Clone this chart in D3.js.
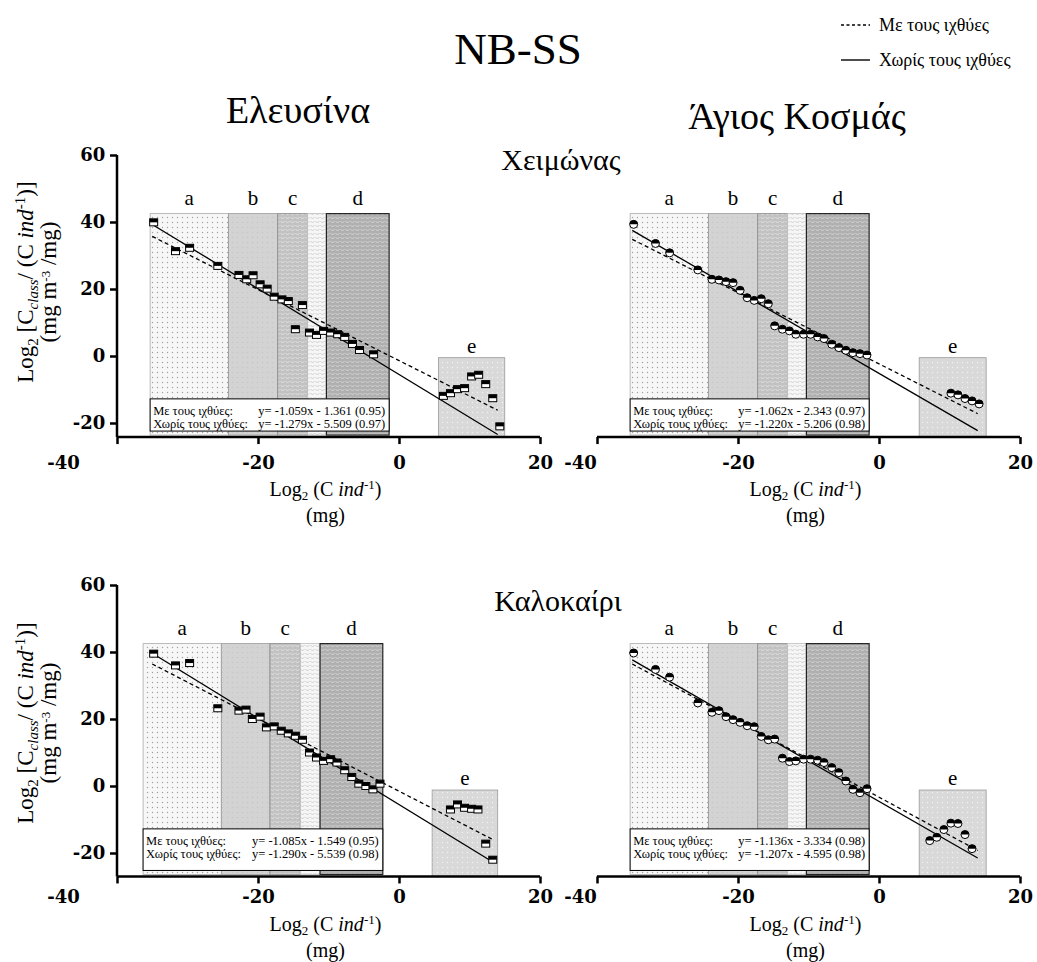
<!DOCTYPE html>
<html>
<head>
<meta charset="utf-8">
<script src="https://cdn.jsdelivr.net/npm/d3@7"></script>
<style>
  body { margin: 0; background: #fff; }
</style>
</head>
<body>
<div id="chart"></div>
<script>
// ---- data ----
// Ελευσίνα, Χειμώνας
var elWinX = [-34.8, -31.7, -29.7, -25.7, -22.7, -21.6, -20.7, -19.7, -18.7, -17.7, -16.6, -15.7, -13.7, -14.7, -12.7, -11.7, -10.7, -9.7, -8.7, -7.7, -6.6, -5.6, -3.6,
              6.3, 7.3, 8.3, 9.3, 10.3, 11.3, 12.3, 13.3, 14.3];
var elWinY = [39.9, 31.3, 32.3, 26.9, 24.2, 22.9, 24.1, 21.4, 20.1, 17.7, 16.9, 16.4, 15.2, 8.0, 7.0, 6.3, 7.5, 7.0, 6.5, 5.7, 3.6, 1.8, 0.5,
              -11.9, -11.1, -9.9, -9.6, -6.1, -5.6, -8.4, -12.6, -21.0];
// Άγιος Κοσμάς, Χειμώνας
var akWinX = [-34.8, -31.7, -29.7, -25.7, -23.7, -22.7, -21.7, -20.7, -19.7, -18.7, -17.7, -16.7, -15.7, -14.8, -13.7, -12.7, -11.8, -10.7, -9.7, -8.7, -7.8, -6.7, -5.7, -4.7, -3.7, -2.7, -1.7,
              10.2, 11.2, 12.2, 13.2, 14.2];
var akWinY = [39.3, 33.6, 30.8, 25.7, 22.9, 22.7, 22.2, 21.9, 19.6, 17.4, 16.6, 17.1, 15.6, 9.0, 8.0, 7.5, 6.5, 6.5, 6.5, 5.7, 5.2, 3.5, 2.5, 1.7, 1.0, 0.7, 0.3,
              -11.1, -11.6, -12.7, -13.4, -14.3];
// Ελευσίνα, Καλοκαίρι
var elSumX = [-34.8, -31.7, -29.7, -25.7, -22.7, -21.7, -20.8, -19.7, -18.8, -17.7, -16.7, -15.7, -14.7, -13.7, -12.7, -11.7, -10.7, -9.7, -8.8, -7.7, -6.7, -5.7, -4.7, -3.7, -2.7,
              7.3, 8.3, 9.3, 10.3, 11.2, 12.3, 13.3];
var elSumY = [39.5, 36.0, 36.7, 23.2, 22.5, 22.8, 20.0, 20.7, 17.5, 17.8, 16.5, 15.7, 15.0, 13.8, 10.0, 8.5, 7.5, 8.0, 7.0, 4.7, 2.7, 0.7, 0.0, -1.0, 0.7,
              -7.0, -5.5, -6.5, -6.8, -7.0, -17.2, -22.0];
// Άγιος Κοσμάς, Καλοκαίρι
var akSumX = [-34.8, -31.7, -29.7, -25.7, -23.7, -22.7, -21.7, -20.7, -19.7, -18.7, -17.7, -16.7, -15.7, -14.8, -13.7, -12.7, -11.8, -10.7, -9.7, -8.7, -7.8, -6.7, -5.7, -4.7, -3.7, -2.7, -1.7,
              7.2, 8.2, 9.2, 10.2, 11.2, 12.2, 13.2];
var akSumY = [39.7, 34.8, 32.5, 24.8, 22.0, 22.5, 20.7, 19.8, 19.0, 18.0, 17.7, 14.8, 13.8, 14.0, 8.3, 7.3, 7.5, 8.0, 8.0, 7.7, 7.0, 5.5, 4.0, 1.5, -1.0, -2.0, -0.8,
              -16.3, -15.3, -13.0, -11.1, -11.2, -14.5, -18.7];

// fitted lines: [slope, intercept, r2]
var elWinWith = [-1.059, -1.361, 0.95], elWinWithout = [-1.279, -5.509, 0.97];
var akWinWith = [-1.062, -2.343, 0.97], akWinWithout = [-1.220, -5.206, 0.98];
var elSumWith = [-1.085, -1.549, 0.95], elSumWithout = [-1.290, -5.539, 0.98];
var akSumWith = [-1.136, -3.334, 0.98], akSumWithout = [-1.207, -4.595, 0.98];

// size zones (edges on the x axis) and zone e
var zoneEdgesA = [-35.3, -24.2, -17.2, -13.0, -10.3, -1.4];
var zoneEdgesB = [-36.3, -25.2, -18.3, -14.0, -11.2, -2.3];
var zoneNames = ["a", "b", "c", "", "d"];
var zoneE_A = [5.6, 15.0], zoneE_B = [4.7, 14.0], zoneE_R = [5.7, 15.2];
var zoneTop = 42.5;

var xTicks = [-40, -20, 0, 20];
var yTicks = [-20, 0, 20, 40, 60];

var legendNames = ["Με τους ιχθύες", "Χωρίς τους ιχθύες"];

// ---- page ----
var W = 1037, H = 962;
var serif = "'Liberation Serif', 'Times New Roman', serif";
var tickFont = "'DejaVu Serif', serif";

var svg = d3.select("#chart").append("svg")
  .attr("width", W).attr("height", H)
  .style("font-family", serif);

// patterns for the zones
var defs = svg.append("defs");
function dotPattern(id, bg, dot, step) {
  var p = defs.append("pattern").attr("id", id)
    .attr("width", step).attr("height", step).attr("patternUnits", "userSpaceOnUse");
  p.append("rect").attr("width", step).attr("height", step).attr("fill", bg);
  p.append("circle").attr("cx", step / 2).attr("cy", step / 2).attr("r", 0.7).attr("fill", dot);
}
function chevPattern(id, bg, fg) {
  var p = defs.append("pattern").attr("id", id)
    .attr("width", 5).attr("height", 4).attr("patternUnits", "userSpaceOnUse");
  p.append("rect").attr("width", 5).attr("height", 4).attr("fill", bg);
  p.append("path").attr("d", "M0.5,1 L2.5,3 L4.5,1").attr("fill", "none")
    .attr("stroke", fg).attr("stroke-width", 0.8);
}
dotPattern("pA", "#f7f7f7", "#a0a0a0", 5);
dotPattern("pB", "#d3d3d3", "#c6c6c6", 5);
chevPattern("pC", "#c2c2c2", "#e8e8e8");
chevPattern("pW", "#f6f6f6", "#c4c4c4");
chevPattern("pD", "#b0b0b0", "#dcdcdc");
dotPattern("pE", "#d9d9d9", "#f2f2f2", 5);

var zoneFill = ["url(#pA)", "url(#pB)", "url(#pC)", "url(#pW)", "url(#pD)"];
var zoneStroke = ["#aaa", "#999", "#888", "#bbb", "#222"];

function fmt3(v) { return Math.abs(v).toFixed(3); }

// ---- titles & legend ----
svg.append("text").attr("x", 518).attr("y", 64).attr("text-anchor", "middle")
  .style("font-size", "45px").text("NB-SS");
svg.append("text").attr("x", 298).attr("y", 123).attr("text-anchor", "middle")
  .style("font-size", "38px").text("Ελευσίνα");
svg.append("text").attr("x", 797).attr("y", 129).attr("text-anchor", "middle")
  .style("font-size", "38px").text("Άγιος Κοσμάς");
svg.append("text").attr("x", 561).attr("y", 170).attr("text-anchor", "middle")
  .style("font-size", "30px").text("Χειμώνας");
svg.append("text").attr("x", 558).attr("y", 611).attr("text-anchor", "middle")
  .style("font-size", "30px").text("Καλοκαίρι");

legendNames.forEach(function (name, i) {
  var ly = 25 + i * 35;
  svg.append("line").attr("x1", 841).attr("x2", 870).attr("y1", ly).attr("y2", ly)
    .attr("stroke", "#000").attr("stroke-width", 1.4)
    .attr("stroke-dasharray", i === 0 ? "3,2.5" : null);
  svg.append("text").attr("x", 879).attr("y", ly + 6)
    .style("font-size", "18px").text(name);
});

// ---- panels ----
function drawPanel(p) {
  var x = d3.scaleLinear().domain([-40, 20]).range([p.left, p.left + 423]);
  var y = d3.scaleLinear().domain([60, -20]).range([p.top, p.top + 268]);
  var yBase = y(p.yMin);
  var g = svg.append("g");

  // zones a-d
  var edges = p.edges;
  for (var i = 0; i < 5; i++) {
    g.append("rect")
      .attr("x", x(edges[i])).attr("y", y(zoneTop))
      .attr("width", x(edges[i + 1]) - x(edges[i]))
      .attr("height", yBase - 2 - y(zoneTop))
      .attr("fill", zoneFill[i]).attr("stroke", zoneStroke[i]).attr("stroke-width", i === 4 ? 1.2 : 0.8);
    if (zoneNames[i]) {
      g.append("text").attr("x", (x(edges[i]) + x(edges[i + 1])) / 2).attr("y", y(zoneTop) - 9)
        .attr("text-anchor", "middle").style("font-size", "21px").text(zoneNames[i]);
    }
  }
  // zone e
  g.append("rect")
    .attr("x", x(p.zoneE[0])).attr("y", y(p.eTop))
    .attr("width", x(p.zoneE[1]) - x(p.zoneE[0]))
    .attr("height", yBase - y(p.eTop))
    .attr("fill", "url(#pE)").attr("stroke", "#999").attr("stroke-width", 0.8);
  g.append("text").attr("x", (x(p.zoneE[0]) + x(p.zoneE[1])) / 2).attr("y", y(p.eTop) - 5)
    .attr("text-anchor", "middle").style("font-size", "21px").text("e");

  // equation box
  var bx0 = x(edges[0]), bx1 = x(edges[5]), by0 = y(-12.8), by1 = yBase - 6;
  g.append("rect").attr("x", bx0).attr("y", by0).attr("width", bx1 - bx0).attr("height", by1 - by0)
    .attr("fill", "#fff").attr("stroke", "#000").attr("stroke-width", 1);
  [p.fitWith, p.fitWithout].forEach(function (f, k) {
    var ty = by0 + 16 + k * 13;
    g.append("text").attr("x", bx0 + 3).attr("y", ty).style("font-size", "12.5px")
      .text(legendNames[k] + ":");
    var eq = "y= -" + fmt3(f[0]) + "x - " + fmt3(f[1]) + " (" + f[2].toFixed(2) + ")";
    g.append("text").attr("x", bx1 - 4).attr("y", ty).attr("text-anchor", "end")
      .style("font-size", "12.5px").text(eq);
  });

  // fitted lines
  var line = d3.line().x(function (d) { return x(d[0]); }).y(function (d) { return y(d[1]); });
  [[p.fitWith, "4,3"], [p.fitWithout, null]].forEach(function (s) {
    var f = s[0];
    var pts = p.lineRange.map(function (v) { return [v, f[0] * v + f[1]]; });
    g.append("path").datum(pts).attr("d", line).attr("fill", "none")
      .attr("stroke", "#000").attr("stroke-width", 1.3).attr("stroke-dasharray", s[1]);
  });

  // points
  var pts = p.xs.map(function (v, i) { return [v, p.ys[i]]; });
  var m = g.selectAll(".pt").data(pts).enter().append("g")
    .attr("transform", function (d) { return "translate(" + x(d[0]) + "," + y(d[1]) + ")"; });
  if (p.marker === "square") {
    m.append("rect").attr("x", -4).attr("y", -3.5).attr("width", 8).attr("height", 7)
      .attr("fill", "#fff").attr("stroke", "#000").attr("stroke-width", 1);
    m.append("rect").attr("x", -4).attr("y", -3.5).attr("width", 8).attr("height", 3.5).attr("fill", "#000");
  } else {
    m.append("circle").attr("r", 4).attr("fill", "#fff").attr("stroke", "#000").attr("stroke-width", 1);
    m.append("path").attr("d", "M-4,0 A4,4 0 0 1 4,0 Z").attr("fill", "#000");
  }

  // axes
  var xAxis = g.append("g").attr("transform", "translate(0," + yBase + ")")
    .call(d3.axisBottom(x).tickValues(xTicks).tickSize(7));
  xAxis.select(".domain").attr("stroke-width", 2.5).attr("d", "M" + p.left + ",0H" + (p.left + 423));
  xAxis.selectAll(".tick line").attr("stroke-width", 2.5);
  xAxis.selectAll(".tick text").attr("y", p.tickDy).attr("dy", "0")
    .attr("dx", function (d) { return d === -40 ? p.firstShift : 0; })
    .style("font-family", tickFont).style("font-weight", "bold").style("font-size", "18px")
    .text(function (d) { return d < 0 ? "-" + Math.abs(d) : d; });

  if (p.yLabels) {
    var yAxis = g.append("g").attr("transform", "translate(" + p.left + ",0)")
      .call(d3.axisLeft(y).tickValues(yTicks).tickSize(7));
    yAxis.select(".domain").attr("stroke-width", 2.5).attr("d", "M0," + y(60) + "V" + yBase);
    yAxis.selectAll(".tick line").attr("stroke-width", 2.5);
    yAxis.selectAll(".tick text").attr("dx", "-0.1em")
      .style("font-family", tickFont).style("font-weight", "bold").style("font-size", "18px")
      .text(function (d) { return d < 0 ? "-" + Math.abs(d) : d; });

    // y label, two lines
    var cy = p.labCy;
    var t1 = g.append("text").attr("transform", "translate(33," + cy + ") rotate(-90)")
      .attr("text-anchor", "middle").style("font-size", "23px");
    t1.append("tspan").text("Log");
    t1.append("tspan").attr("dy", 5).style("font-size", "15px").text("2");
    t1.append("tspan").attr("dy", -5).text(" [C");
    t1.append("tspan").attr("dy", 5).style("font-size", "15px").style("font-style", "italic").text("class");
    t1.append("tspan").attr("dy", -5).text("/ (C ");
    t1.append("tspan").style("font-style", "italic").text("ind");
    t1.append("tspan").attr("dy", -8).style("font-size", "15px").text("-1");
    t1.append("tspan").attr("dy", 8).text(")]");
    var t2 = g.append("text").attr("transform", "translate(56," + cy + ") rotate(-90)")
      .attr("text-anchor", "middle").style("font-size", "23px");
    t2.append("tspan").text("(mg m");
    t2.append("tspan").attr("dy", -6).style("font-size", "13px").text("-3");
    t2.append("tspan").attr("dy", 6).text(" /mg)");
  }

  // x label
  var cx = (x(-40) + x(20)) / 2 - 3;
  var xl = g.append("text").attr("x", cx).attr("y", yBase + p.labDy).attr("text-anchor", "middle")
    .style("font-size", "20px");
  xl.append("tspan").text("Log");
  xl.append("tspan").attr("dy", 4).style("font-size", "13px").text("2");
  xl.append("tspan").attr("dy", -4).text(" (C ");
  xl.append("tspan").style("font-style", "italic").text("ind");
  xl.append("tspan").attr("dy", -7).style("font-size", "13px").text("-1");
  xl.append("tspan").attr("dy", 7).text(")");
  g.append("text").attr("x", cx).attr("y", yBase + p.labDy + 26).attr("text-anchor", "middle")
    .style("font-size", "20px").text("(mg)");
}

drawPanel({ left: 117, top: 155, yMin: -24.2, xs: elWinX, ys: elWinY, edges: zoneEdgesA, zoneE: zoneE_A, eTop: -0.5,
  fitWith: elWinWith, fitWithout: elWinWithout, lineRange: [-35, 14], marker: "square", yLabels: true,
  firstShift: -54, tickDy: 32, labDy: 59, labCy: 282 });
drawPanel({ left: 597, top: 155, yMin: -24.2, xs: akWinX, ys: akWinY, edges: zoneEdgesA, zoneE: zoneE_R, eTop: -0.5,
  fitWith: akWinWith, fitWithout: akWinWithout, lineRange: [-35, 14], marker: "circle", yLabels: false,
  firstShift: -17, tickDy: 32, labDy: 59 });
drawPanel({ left: 117, top: 585, yMin: -27, xs: elSumX, ys: elSumY, edges: zoneEdgesB, zoneE: zoneE_B, eTop: -1.2,
  fitWith: elSumWith, fitWithout: elSumWithout, lineRange: [-35, 13.3], marker: "square", yLabels: true,
  firstShift: -54, tickDy: 27, labDy: 55, labCy: 723 });
drawPanel({ left: 597, top: 585, yMin: -27, xs: akSumX, ys: akSumY, edges: zoneEdgesA, zoneE: zoneE_R, eTop: -1.2,
  fitWith: akSumWith, fitWithout: akSumWithout, lineRange: [-35, 14], marker: "circle", yLabels: false,
  firstShift: -17, tickDy: 27, labDy: 55 });
</script>
</body>
</html>
